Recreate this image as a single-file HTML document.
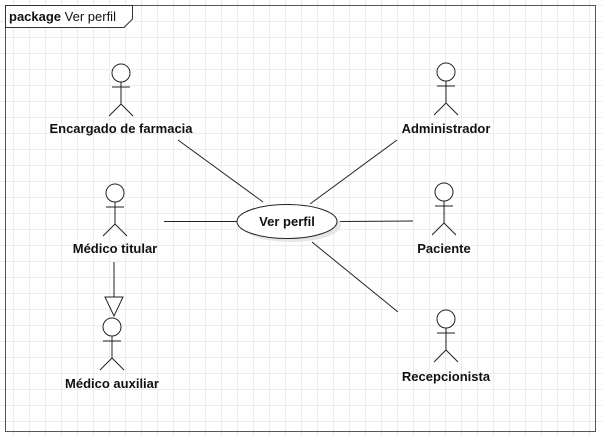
<!DOCTYPE html>
<html><head><style>
html,body{margin:0;padding:0;background:#fff;}
body{width:602px;height:436px;overflow:hidden;
background-image:linear-gradient(#ececec 1px,transparent 1px),linear-gradient(90deg,#ececec 1px,transparent 1px);
background-size:16px 16px;background-position:13px 5px;}
text{font-family:"Liberation Sans",sans-serif;font-size:13px;fill:#111;}
</style></head><body>
<svg width="602" height="436" style="position:absolute;left:0;top:0">
<rect x="5.5" y="5.5" width="590" height="426" fill="none" stroke="#555" stroke-width="1"/>
<path d="M5.5 5.5 H132.5 V19 L124 27.5 H5.5 Z" fill="#fff" stroke="#333"/>
<text x="9" y="21"><tspan font-weight="bold">package</tspan> Ver perfil</text>
<g stroke="#222" stroke-width="1" fill="none">
<line x1="178" y1="140" x2="263" y2="202"/>
<line x1="397" y1="140" x2="310" y2="204"/>
<line x1="164" y1="221.5" x2="237" y2="221.5"/>
<line x1="337" y1="221.5" x2="413" y2="221"/>
<line x1="312" y1="242" x2="398" y2="312"/>
<line x1="114" y1="262" x2="114" y2="297"/>
<path d="M105 297 H123 L114 316 Z" fill="#fff"/>
</g>
<ellipse cx="291" cy="225" rx="50" ry="17" fill="#e6e6e6"/>
<ellipse cx="287" cy="221.5" rx="50" ry="17" fill="#fff" stroke="#222"/>
<text x="287" y="226" text-anchor="middle" font-weight="bold">Ver perfil</text>
<g stroke="#222" fill="#fff" stroke-width="1">
<g transform="translate(121,73)"><circle r="9"/><path d="M0 9V31M-9 14H9M0 31L-12 43M0 31L12 43" fill="none"/></g>
<g transform="translate(115,193)"><circle r="9"/><path d="M0 9V31M-9 14H9M0 31L-12 43M0 31L12 43" fill="none"/></g>
<g transform="translate(112,327)"><circle r="9"/><path d="M0 9V31M-9 14H9M0 31L-12 43M0 31L12 43" fill="none"/></g>
<g transform="translate(446,72)"><circle r="9"/><path d="M0 9V31M-9 14H9M0 31L-12 43M0 31L12 43" fill="none"/></g>
<g transform="translate(444,192)"><circle r="9"/><path d="M0 9V31M-9 14H9M0 31L-12 43M0 31L12 43" fill="none"/></g>
<g transform="translate(446,319)"><circle r="9"/><path d="M0 9V31M-9 14H9M0 31L-12 43M0 31L12 43" fill="none"/></g>
</g>
<g font-weight="bold" text-anchor="middle">
<text x="121" y="133">Encargado de farmacia</text>
<text x="115" y="253">Médico titular</text>
<text x="112" y="388">Médico auxiliar</text>
<text x="446" y="133">Administrador</text>
<text x="444" y="253">Paciente</text>
<text x="446" y="381">Recepcionista</text>
</g>
</svg>
</body></html>
